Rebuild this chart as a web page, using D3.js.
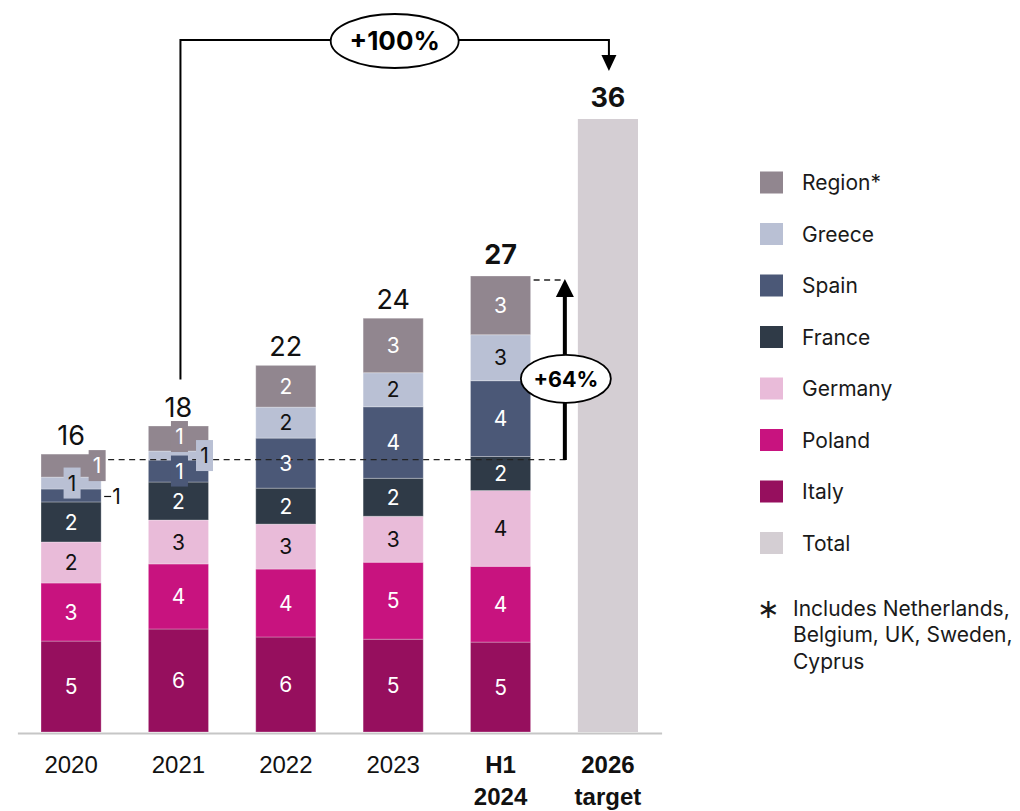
<!DOCTYPE html>
<html>
<head>
<meta charset="utf-8">
<script src="https://cdn.jsdelivr.net/npm/d3@7/dist/d3.min.js"></script>
<style>
  html, body { margin: 0; padding: 0; background: #fff; }
  svg { display: block; font-family: Inter, "Noto Sans", sans-serif; }
</style>
</head>
<body>
<svg id="chart" width="1020" height="811"></svg>
<script>
// Installed capacity by country (GW), stacked bottom-up
const categories = ["2020", "2021", "2022", "2023", "H1 2024", "2026 target"];
const seriesNames = ["Italy", "Poland", "Germany", "France", "Spain", "Greece", "Region"];
const italy   = [5.34, 6.05, 5.58, 5.45, 5.28];
const poland  = [3.41, 3.82, 3.99, 4.52, 4.45];
const germany = [2.41, 2.58, 2.64, 2.70, 4.45];
const france  = [2.35, 2.23, 2.11, 2.23, 2.00];
const spain   = [0.76, 1.29, 2.94, 4.20, 4.45];
const greece  = [0.70, 0.53, 1.82, 2.00, 2.70];
const region  = [1.35, 1.47, 2.45, 3.20, 3.45];
const totals  = [16, 18, 22, 24, 27, 36];
const targetTotal = 36;
const growthTarget = "+100%";
const growthH1 = "+64%";
const legendLabels = ["Region*", "Greece", "Spain", "France", "Germany", "Poland", "Italy", "Total"];
const footnote = ["Includes Netherlands,", "Belgium, UK, Sweden,", "Cyprus"];

const colors = {
  Italy: "#960f5e", Poland: "#c8137f", Germany: "#e9bbd9", France: "#2f3a47",
  Spain: "#4b5877", Greece: "#b9c0d4", Region: "#91868f", Total: "#d4ced3"
};
const darkText = new Set(["Germany", "Greece"]);

const seriesValues = { Italy: italy, Poland: poland, Germany: germany, France: france,
                       Spain: spain, Greece: greece, Region: region };

const svg = d3.select("#chart");

const x = d3.scaleBand().domain(categories).range([17.4, 661.6])
  .paddingInner(0.44).paddingOuter(0.22);
const y = d3.scaleLinear().domain([0, 36]).range([732, 119]);

// rows for the stack (actual years only)
const rows = categories.slice(0, 5).map((c, i) => {
  const r = { cat: c };
  seriesNames.forEach(s => r[s] = seriesValues[s][i]);
  return r;
});
const stacked = d3.stack().keys(seriesNames)(rows);

// x axis
const axis = svg.append("g").attr("transform", `translate(0,${y(0) + 1})`)
  .call(d3.axisBottom(x).tickSize(0).tickFormat(""));
axis.select(".domain").attr("stroke", "#c6c6c6").attr("stroke-width", 2);
axis.selectAll(".tick").each(function (d) {
  const bold = d.startsWith("H1") || d.includes("target");
  const parts = d.split(" ");
  const t = d3.select(this).append("text")
    .attr("fill", "#111").attr("font-size", 24)
    .attr("font-weight", bold ? 700 : 400)
    .attr("text-anchor", "middle");
  parts.forEach((p, k) => {
    t.append("tspan").attr("x", 0).attr("y", 40 + k * 32).text(p);
  });
});

// target bar
svg.append("rect")
  .attr("x", x("2026 target")).attr("width", x.bandwidth())
  .attr("y", y(targetTotal)).attr("height", y(0) - y(targetTotal))
  .attr("fill", colors.Total);

// stacked segments
const layers = svg.append("g").selectAll("g").data(stacked).join("g")
  .attr("fill", d => colors[d.key]);
layers.selectAll("rect").data(d => d.map(p => Object.assign(p, { key: d.key }))).join("rect")
  .attr("x", d => x(d.data.cat)).attr("width", x.bandwidth())
  .attr("y", d => y(d[1])).attr("height", d => y(d[0]) - y(d[1]))
  .attr("stroke", "#ffffff").attr("stroke-opacity", 0.28).attr("stroke-width", 1);

// dashed reference lines for the +64% comparison
const baseY = y(totals[0]);
const h1Top = y(d3.sum(seriesNames, s => seriesValues[s][4]));
const arrowX = x("2026 target") - 13;
svg.append("line")
  .attr("x1", x("2020") + x.bandwidth() + 7).attr("x2", arrowX + 3)
  .attr("y1", baseY).attr("y2", baseY)
  .attr("stroke", "#222").attr("stroke-width", 1.3).attr("stroke-dasharray", "6,4.5");
svg.append("line")
  .attr("x1", x("H1 2024") + x.bandwidth() + 3).attr("x2", arrowX)
  .attr("y1", h1Top + 4).attr("y2", h1Top + 4)
  .attr("stroke", "#222").attr("stroke-width", 1.3).attr("stroke-dasharray", "6,4.5");

// segment labels
const placement = {
  "2020": { Region: "edge", Greece: "center", Spain: "outside" },
  "2021": { Region: "center", Greece: "edge", Spain: "center" }
};
const labelG = svg.append("g").attr("font-size", 21);
stacked.forEach(layer => {
  layer.forEach(p => {
    const cat = p.data.cat;
    const val = p[1] - p[0];
    const txt = d3.format(".0f")(val);
    const cx = x(cat) + x.bandwidth() / 2;
    const cy = (y(p[0]) + y(p[1])) / 2;
    const fill = darkText.has(layer.key) ? "#111" : "#fff";
    const mode = placement[cat] && placement[cat][layer.key];
    if (!mode) {
      labelG.append("text").attr("x", cx).attr("y", cy).attr("dy", "0.36em")
        .attr("text-anchor", "middle").attr("fill", fill).text(txt);
    } else if (mode === "outside") {
      const rx = x(cat) + x.bandwidth();
      labelG.append("line").attr("x1", rx + 3).attr("x2", rx + 10)
        .attr("y1", cy + 1).attr("y2", cy + 1).attr("stroke", "#111").attr("stroke-width", 1.2);
      labelG.append("text").attr("x", rx + 11).attr("y", cy + 1).attr("dy", "0.36em")
        .attr("fill", "#111").text(txt);
    } else {
      const bx = mode === "edge" ? x(cat) + x.bandwidth() - 4 : cx + 1;
      const by = layer.key === "Region" && cat === "2021" ? cy - 2 : cy;
      labelG.append("rect").attr("x", bx - 8.5).attr("y", by - 15.5)
        .attr("width", 17).attr("height", 31).attr("fill", colors[layer.key]);
      labelG.append("text").attr("x", bx).attr("y", by).attr("dy", "0.36em")
        .attr("text-anchor", "middle").attr("fill", fill).text(txt);
    }
  });
});

// totals above bars
const stackTops = rows.map(r => d3.sum(seriesNames, s => r[s])).concat([targetTotal]);
svg.append("g").selectAll("text").data(categories).join("text")
  .attr("x", d => x(d) + x.bandwidth() / 2)
  .attr("y", (d, i) => y(stackTops[i]) - (i >= 4 ? 12 : 9))
  .attr("text-anchor", "middle").attr("font-size", 27)
  .attr("font-weight", (d, i) => i >= 4 ? 700 : 400)
  .attr("fill", "#111")
  .text((d, i) => totals[i]);

// +64% arrow
svg.append("line").attr("x1", arrowX).attr("x2", arrowX)
  .attr("y1", baseY + 0.5).attr("y2", h1Top + 18)
  .attr("stroke", "#000").attr("stroke-width", 4);
svg.append("path")
  .attr("d", `M${arrowX - 9},${h1Top + 21} L${arrowX + 9},${h1Top + 21} L${arrowX},${h1Top + 3} Z`)
  .attr("fill", "#000");
const e64y = (baseY + h1Top) / 2 + 11;
svg.append("ellipse").attr("cx", arrowX + 1).attr("cy", e64y).attr("rx", 45).attr("ry", 24)
  .attr("fill", "#fff").attr("stroke", "#000").attr("stroke-width", 1.8);
svg.append("text").attr("x", arrowX + 1).attr("y", e64y).attr("dy", "0.36em")
  .attr("text-anchor", "middle").attr("font-size", 21.5).attr("font-weight", 700)
  .attr("fill", "#000").text(growthH1);

// +100% bracket from 2021 to the 2026 target
const bx1 = x("2021") + x.bandwidth() / 2 + 2;
const bx2 = x("2026 target") + x.bandwidth() / 2 + 1;
const bracketY = 40;
svg.append("path")
  .attr("d", `M${bx1},${y(totals[1]) - 46} V${bracketY} H${bx2} V${bracketY + 16}`)
  .attr("fill", "none").attr("stroke", "#000").attr("stroke-width", 2);
svg.append("path")
  .attr("d", `M${bx2 - 7.5},${bracketY + 15} L${bx2 + 7.5},${bracketY + 15} L${bx2},${bracketY + 31} Z`)
  .attr("fill", "#000");
const ecx = (bx1 + bx2) / 2;
svg.append("ellipse").attr("cx", ecx).attr("cy", bracketY + 1).attr("rx", 64).attr("ry", 27)
  .attr("fill", "#fff").attr("stroke", "#000").attr("stroke-width", 1.8);
svg.append("text").attr("x", ecx).attr("y", bracketY + 1).attr("dy", "0.36em")
  .attr("text-anchor", "middle").attr("font-size", 26).attr("font-weight", 700)
  .attr("fill", "#000").text(growthTarget);

// legend
const legendKeys = ["Region", "Greece", "Spain", "France", "Germany", "Poland", "Italy", "Total"];
const legend = svg.append("g").attr("transform", "translate(760,182.5)");
legendKeys.forEach((k, i) => {
  const g = legend.append("g").attr("transform", `translate(0,${i * 51.5})`);
  g.append("rect").attr("x", 0).attr("y", -11).attr("width", 23).attr("height", 22)
    .attr("fill", colors[k]);
  g.append("text").attr("x", 42).attr("y", 0).attr("dy", "0.36em")
    .attr("font-size", 21).attr("fill", "#1a1a1a").text(legendLabels[i]);
});

// footnote
const fn = svg.append("g").attr("font-size", 21).attr("fill", "#1a1a1a");
fn.append("text").attr("x", 768).attr("y", 608).attr("dy", "0.36em")
  .attr("text-anchor", "middle").attr("font-size", 27).text("\u2217");
footnote.forEach((line, i) => {
  fn.append("text").attr("x", 793).attr("y", 608 + i * 26.5).attr("dy", "0.36em").text(line);
});
</script>
</body>
</html>
